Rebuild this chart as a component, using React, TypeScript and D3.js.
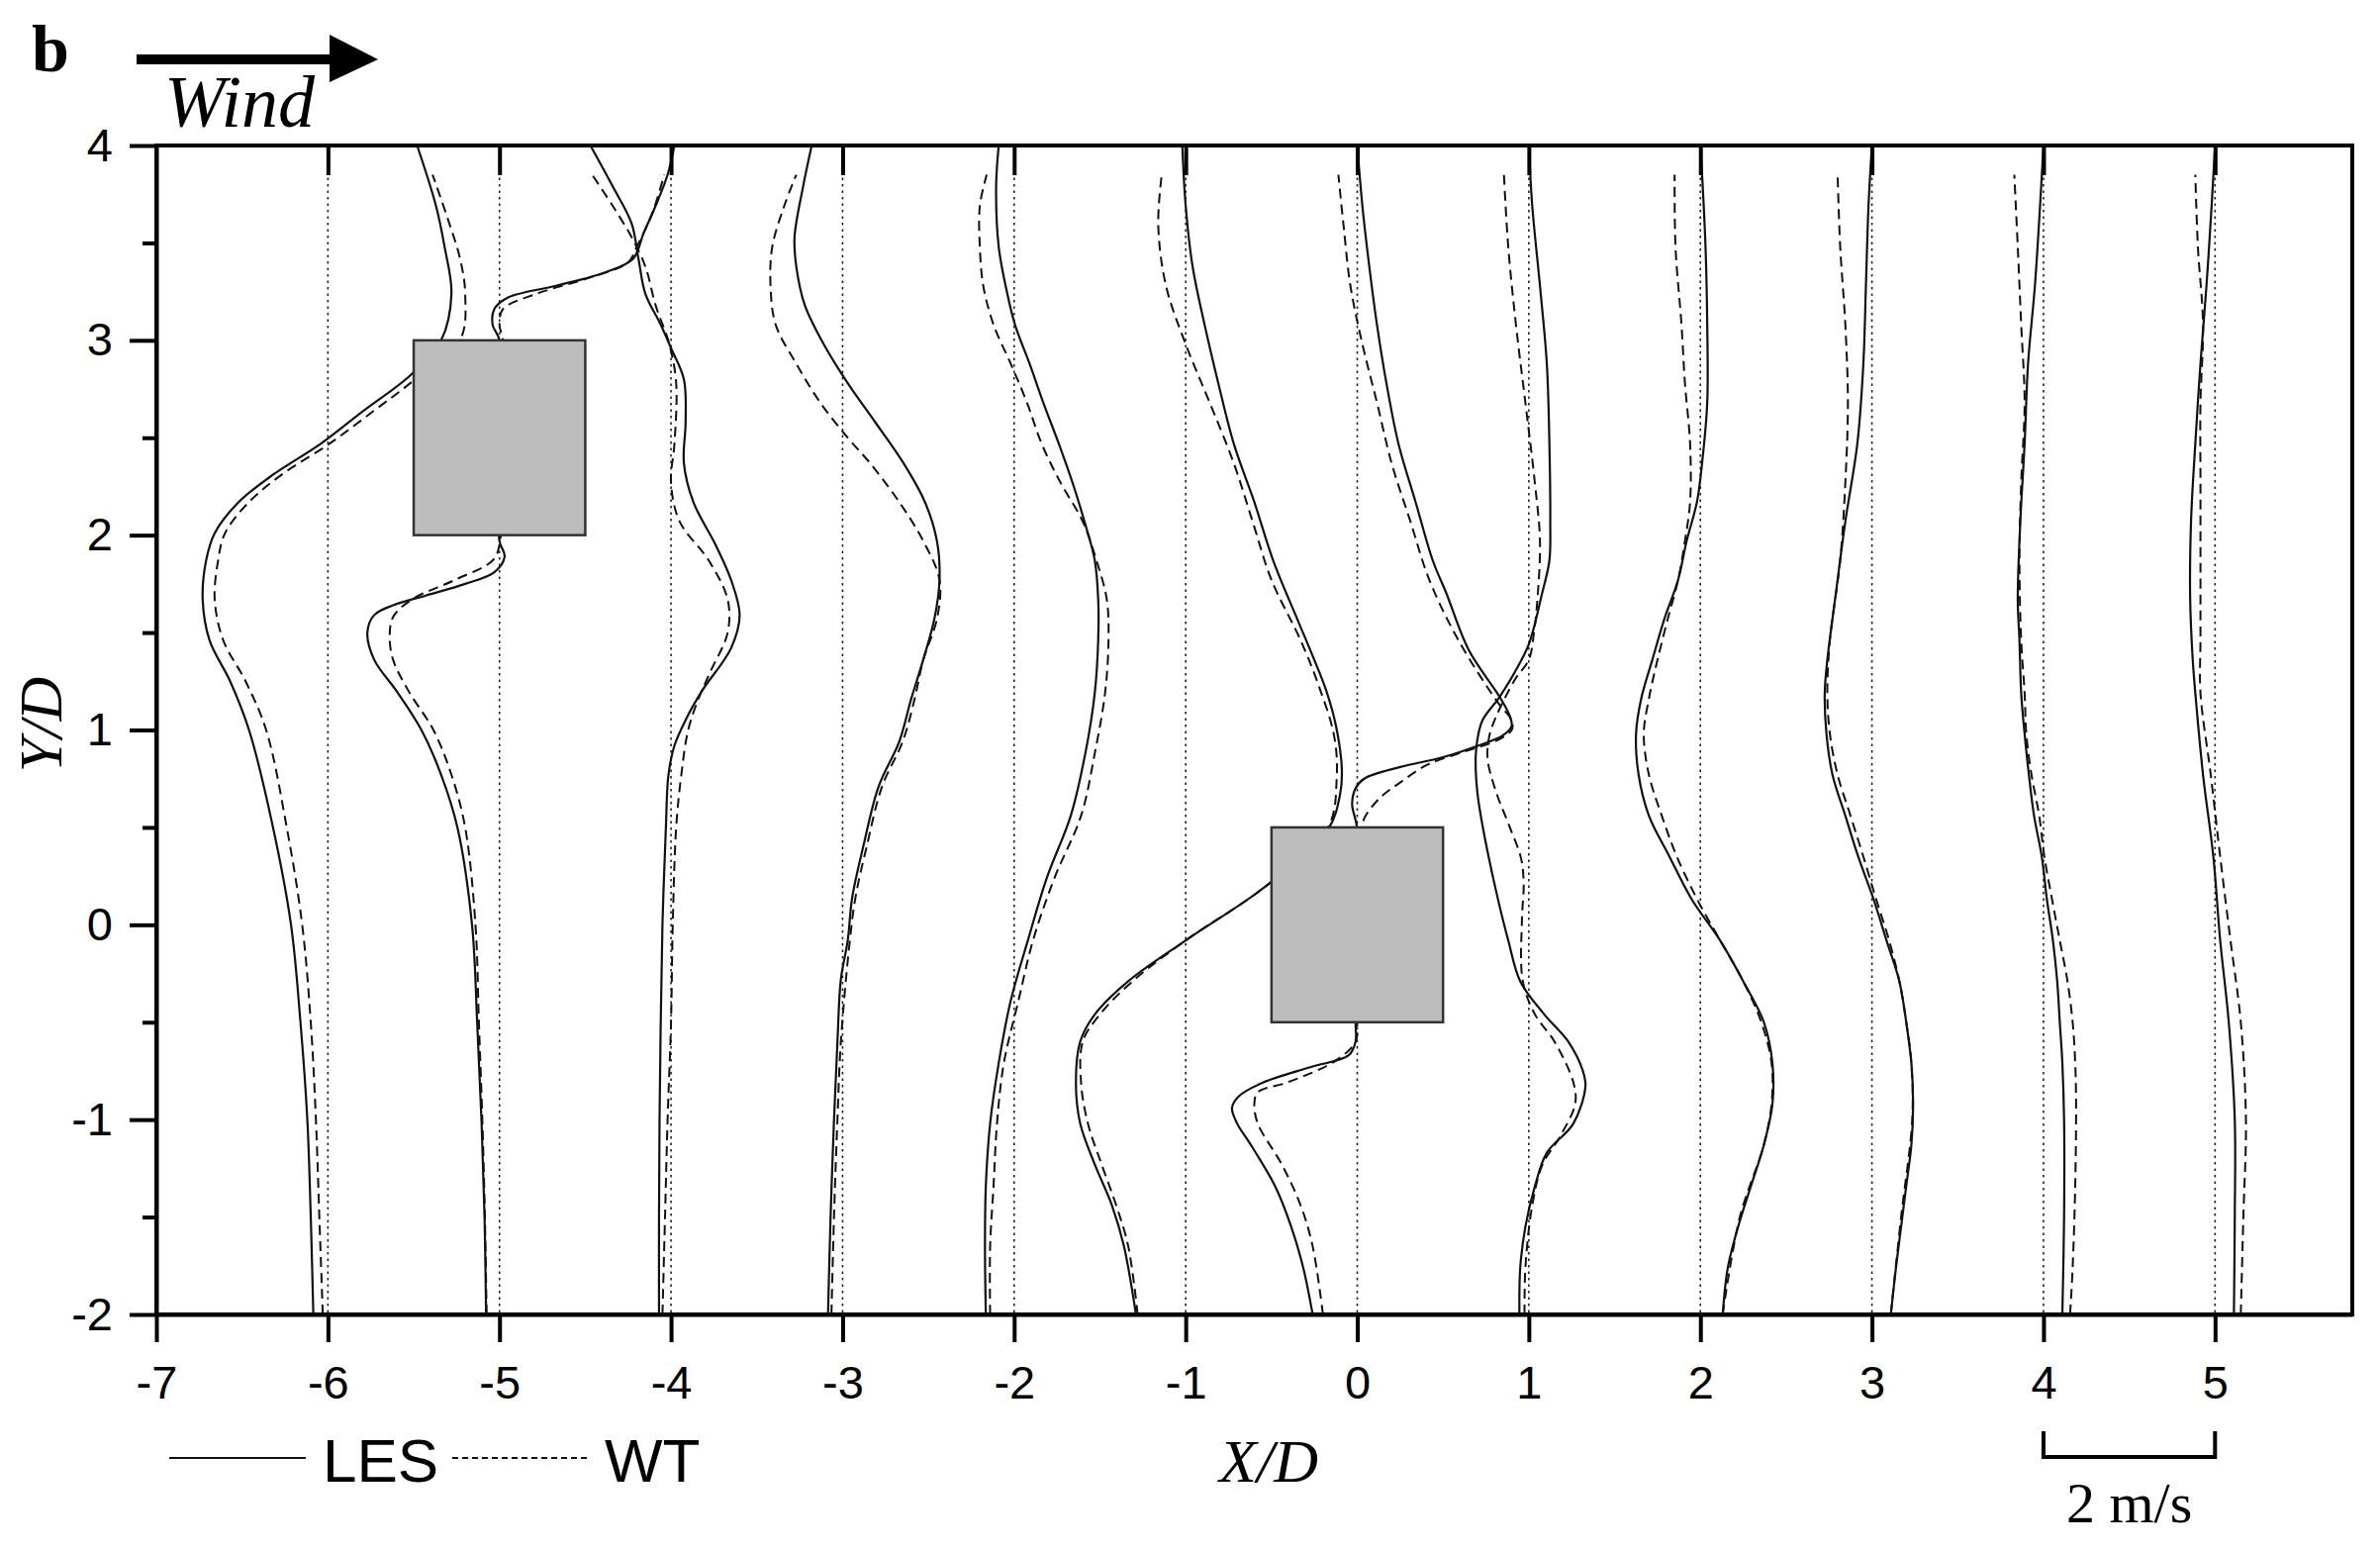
import { useEffect, useRef } from "react";
import * as d3 from "d3";

// measuring stations (X/D) and axis ticks
const stations = [-6, -5, -4, -3, -2, -1, 0, 1, 2, 3, 4, 5];
const xTickValues = [-7, -6, -5, -4, -3, -2, -1, 0, 1, 2, 3, 4, 5];
const yTickValues = [-2, -1, 0, 1, 2, 3, 4];
const yMinorTickValues = [-1.5, -0.5, 0.5, 1.5, 2.5, 3.5];

// profiles: [Y/D, deflection from station in X/D]  (1 X/D = 2 m/s)
const les_m6 = [[-2,-0.085],[-1.5,-0.1],[-1,-0.12],[-0.5,-0.16],[0,-0.215],[0.5,-0.32],[1,-0.46],[1.25,-0.57],[1.46,-0.69],[1.67,-0.73],[1.87,-0.71],[2.01,-0.66],[2.17,-0.52],[2.31,-0.32],[2.47,-0.04],[2.64,0.21],[2.82,0.48],[3,0.66],[3.24,0.72],[3.48,0.68],[3.69,0.63],[4,0.52]];
const wt_m6 = [[-2,-0.03],[-1.5,-0.05],[-1,-0.07],[-0.5,-0.1],[0,-0.15],[0.5,-0.24],[1,-0.36],[1.25,-0.48],[1.46,-0.61],[1.67,-0.66],[1.87,-0.64],[2.01,-0.6],[2.17,-0.46],[2.31,-0.27],[2.47,0.01],[2.64,0.27],[2.78,0.48],[3,0.77],[3.24,0.8],[3.42,0.77],[3.62,0.7],[3.85,0.61]];
const les_m5 = [[-2,-0.078],[-1.5,-0.087],[-1,-0.105],[-0.5,-0.13],[0,-0.16],[0.5,-0.245],[0.77,-0.34],[1,-0.455],[1.2,-0.6],[1.36,-0.73],[1.5,-0.77],[1.59,-0.73],[1.64,-0.62],[1.69,-0.43],[1.75,-0.2],[1.81,-0.03],[1.89,0.03],[1.97,0],[2.5,0],[3,0],[3.08,-0.04],[3.16,-0.03],[3.22,0.05],[3.28,0.33],[3.35,0.62],[3.42,0.78],[3.55,0.84],[3.69,0.91],[3.85,0.98],[4,1.02]];
const wt_m5 = [[-2,-0.075],[-1.5,-0.085],[-1,-0.1],[-0.5,-0.12],[0,-0.14],[0.5,-0.2],[0.77,-0.28],[1,-0.385],[1.2,-0.53],[1.36,-0.62],[1.48,-0.64],[1.58,-0.62],[1.67,-0.51],[1.77,-0.26],[1.87,-0.04],[1.95,0],[2.5,0.01],[3,0.02],[3.08,0],[3.16,0.02],[3.24,0.22],[3.32,0.52],[3.4,0.75],[3.48,0.8],[3.65,0.89],[3.85,0.96]];
const les_m4 = [[-2,-0.07],[-1.5,-0.07],[-1,-0.067],[-0.5,-0.06],[0,-0.05],[0.5,-0.03],[0.77,-0.015],[0.92,0.02],[1.06,0.09],[1.2,0.18],[1.42,0.35],[1.59,0.4],[1.77,0.35],[1.95,0.26],[2.17,0.13],[2.37,0.075],[2.58,0.085],[2.8,0.075],[2.96,0],[3.08,-0.06],[3.24,-0.15],[3.42,-0.19],[3.6,-0.23],[3.79,-0.34],[4,-0.47]];
const wt_m4 = [[-2,-0.05],[-1.5,-0.035],[-1,-0.02],[-0.5,0],[0,0.01],[0.5,0.03],[0.77,0.06],[1,0.1],[1.16,0.16],[1.3,0.23],[1.5,0.33],[1.67,0.33],[1.87,0.22],[2.07,0.05],[2.27,0],[2.47,0.02],[2.78,0.03],[2.98,-0.01],[3.18,-0.09],[3.38,-0.15],[3.53,-0.23],[3.69,-0.34],[3.85,-0.46]];
const les_m3 = [[-2,-0.085],[-1.5,-0.07],[-1,-0.05],[-0.6,-0.03],[-0.28,-0.01],[-0.08,0.03],[0.14,0.056],[0.4,0.12],[0.71,0.21],[0.94,0.33],[1.16,0.4],[1.36,0.47],[1.57,0.535],[1.77,0.565],[1.97,0.55],[2.17,0.48],[2.37,0.355],[2.58,0.19],[2.78,0.03],[2.98,-0.11],[3.18,-0.22],[3.38,-0.27],[3.53,-0.28],[3.79,-0.23],[4,-0.18]];
const wt_m3 = [[-2,-0.065],[-1.5,-0.05],[-1,-0.03],[-0.6,-0.01],[-0.1,0.04],[0.14,0.075],[0.4,0.14],[0.71,0.23],[0.94,0.35],[1.16,0.42],[1.36,0.47],[1.57,0.55],[1.77,0.565],[1.97,0.47],[2.17,0.33],[2.37,0.16],[2.5,0.03],[2.68,-0.13],[2.88,-0.27],[3.08,-0.39],[3.28,-0.42],[3.48,-0.41],[3.69,-0.34],[3.85,-0.27]];
const les_m2 = [[-2,-0.165],[-1.65,-0.17],[-1.34,-0.165],[-1.02,-0.14],[-0.71,-0.09],[-0.39,-0.02],[-0.08,0.08],[0.24,0.19],[0.56,0.33],[0.88,0.415],[1.19,0.47],[1.46,0.49],[1.67,0.49],[1.87,0.47],[2.07,0.41],[2.27,0.34],[2.47,0.26],[2.68,0.17],[2.88,0.09],[3.08,0.005],[3.24,-0.04],[3.48,-0.09],[3.79,-0.105],[4,-0.09]];
const wt_m2 = [[-2,-0.14],[-1.65,-0.14],[-1.34,-0.12],[-1.02,-0.1],[-0.71,-0.06],[-0.39,0.025],[-0.08,0.11],[0.24,0.235],[0.56,0.39],[0.88,0.47],[1.19,0.53],[1.46,0.55],[1.67,0.54],[1.87,0.48],[2.07,0.4],[2.27,0.27],[2.47,0.16],[2.68,0.075],[2.88,-0.02],[3.08,-0.12],[3.28,-0.18],[3.48,-0.2],[3.69,-0.2],[3.85,-0.16]];
const les_m1 = [[-2,-0.29],[-1.65,-0.36],[-1.44,-0.43],[-1.23,-0.53],[-1.02,-0.615],[-0.81,-0.64],[-0.6,-0.615],[-0.46,-0.53],[-0.29,-0.335],[-0.08,0],[0.2,0.47],[0.49,0.83],[0.67,0.9],[0.8,0.91],[1.02,0.876],[1.2,0.82],[1.38,0.74],[1.57,0.65],[1.87,0.51],[2.17,0.4],[2.47,0.28],[2.78,0.19],[3.08,0.11],[3.38,0.04],[3.69,0],[4,-0.02]];
const wt_m1 = [[-2,-0.28],[-1.65,-0.335],[-1.44,-0.405],[-1.23,-0.49],[-1.02,-0.57],[-0.81,-0.61],[-0.6,-0.6],[-0.46,-0.5],[-0.29,-0.31],[-0.08,0],[0.2,0.47],[0.5,0.83],[0.75,0.88],[0.97,0.865],[1.24,0.77],[1.46,0.67],[1.77,0.5],[2.07,0.39],[2.37,0.28],[2.68,0.14],[2.98,0],[3.28,-0.115],[3.59,-0.16],[3.85,-0.14]];
const les_0 = [[-2,-0.26],[-1.76,-0.315],[-1.55,-0.385],[-1.34,-0.48],[-1.13,-0.62],[-1.02,-0.7],[-0.94,-0.73],[-0.88,-0.69],[-0.81,-0.55],[-0.73,-0.27],[-0.67,-0.05],[-0.6,-0.01],[-0.5,-0.01],[0.49,0],[0.62,-0.03],[0.7,-0.01],[0.75,0.04],[0.81,0.25],[0.86,0.5],[0.915,0.69],[0.97,0.845],[1.02,0.9],[1.08,0.885],[1.17,0.83],[1.41,0.65],[1.7,0.52],[1.87,0.44],[2.17,0.34],[2.47,0.24],[2.78,0.17],[3.08,0.115],[3.38,0.07],[3.69,0.03],[4,0]];
const wt_0 = [[-2,-0.2],[-1.65,-0.26],[-1.44,-0.33],[-1.23,-0.44],[-1.02,-0.58],[-0.92,-0.6],[-0.86,-0.58],[-0.81,-0.41],[-0.7,-0.13],[-0.6,-0.01],[-0.5,0],[0.5,0.03],[0.545,0.04],[0.65,0.13],[0.73,0.25],[0.82,0.405],[0.885,0.61],[0.945,0.81],[1,0.9],[1.05,0.9],[1.14,0.82],[1.46,0.59],[1.77,0.42],[2.07,0.31],[2.37,0.2],[2.68,0.115],[2.98,0.03],[3.28,-0.04],[3.59,-0.08],[3.85,-0.11]];
const les_1 = [[-2,-0.055],[-1.76,-0.05],[-1.55,-0.02],[-1.34,0.036],[-1.17,0.105],[-1.02,0.26],[-0.83,0.33],[-0.75,0.315],[-0.6,0.23],[-0.46,0.09],[-0.29,-0.05],[-0.08,-0.12],[0.17,-0.19],[0.51,-0.27],[0.68,-0.3],[0.85,-0.31],[0.95,-0.3],[1.05,-0.27],[1.17,-0.17],[1.3,-0.08],[1.44,0],[1.7,0.077],[1.87,0.12],[2.07,0.125],[2.47,0.12],[2.88,0.105],[3.28,0.065],[3.69,0.02],[4,0]];
const wt_1 = [[-2,-0.025],[-1.76,-0.02],[-1.44,0.02],[-1.23,0.08],[-1.09,0.18],[-0.92,0.27],[-0.81,0.26],[-0.6,0.15],[-0.46,0.036],[-0.29,-0.035],[0.03,-0.04],[0.21,-0.03],[0.34,-0.045],[0.51,-0.115],[0.68,-0.19],[0.85,-0.24],[0.97,-0.23],[1.07,-0.19],[1.26,-0.08],[1.36,0],[1.5,0.03],[1.67,0.05],[1.97,0.065],[2.27,0.035],[2.68,-0.02],[3.08,-0.075],[3.48,-0.12],[3.85,-0.145]];
const les_2 = [[-2,0.13],[-1.76,0.16],[-1.55,0.22],[-1.34,0.295],[-1.13,0.37],[-0.92,0.42],[-0.71,0.42],[-0.5,0.37],[-0.29,0.25],[-0.08,0.115],[0.13,-0.05],[0.35,-0.18],[0.56,-0.3],[0.77,-0.36],[0.98,-0.375],[1.16,-0.345],[1.36,-0.28],[1.57,-0.21],[1.77,-0.13],[1.97,-0.08],[2.17,-0.02],[2.37,0.01],[2.68,0.04],[3.08,0.04],[3.48,0.03],[3.85,0.01],[4,0]];
const wt_2 = [[-2,0.13],[-1.5,0.23],[-1.13,0.37],[-0.92,0.415],[-0.71,0.415],[-0.5,0.355],[-0.29,0.25],[-0.08,0.115],[0.13,-0.018],[0.35,-0.137],[0.56,-0.225],[0.77,-0.3],[0.98,-0.33],[1.16,-0.3],[1.36,-0.25],[1.57,-0.19],[1.77,-0.13],[1.97,-0.09],[2.17,-0.06],[2.47,-0.06],[2.78,-0.09],[3.08,-0.11],[3.48,-0.145],[3.85,-0.15]];
const les_3 = [[-2,0.11],[-1.76,0.14],[-1.55,0.17],[-1.34,0.2],[-1.13,0.23],[-0.92,0.24],[-0.71,0.23],[-0.5,0.2],[-0.29,0.16],[-0.08,0.085],[0.13,0.01],[0.35,-0.08],[0.56,-0.155],[0.77,-0.23],[0.98,-0.265],[1.19,-0.275],[1.36,-0.26],[1.67,-0.215],[2.07,-0.155],[2.47,-0.085],[2.88,-0.05],[3.28,-0.035],[3.69,-0.02],[4,0]];
const wt_3 = [[-2,0.11],[-1.5,0.17],[-1,0.235],[-0.71,0.23],[-0.5,0.2],[-0.29,0.16],[-0.08,0.1],[0.13,0.025],[0.35,-0.05],[0.56,-0.125],[0.77,-0.2],[0.98,-0.245],[1.19,-0.26],[1.46,-0.245],[1.87,-0.185],[2.27,-0.155],[2.68,-0.14],[3.08,-0.155],[3.48,-0.185],[3.85,-0.2]];
const les_4 = [[-2,0.11],[-1.5,0.12],[-1,0.12],[-0.71,0.11],[-0.5,0.095],[-0.29,0.08],[-0.08,0.055],[0.13,0.02],[0.35,-0.01],[0.56,-0.055],[0.77,-0.085],[0.98,-0.11],[1.19,-0.13],[1.46,-0.14],[1.67,-0.15],[2.07,-0.135],[2.47,-0.11],[2.88,-0.09],[3.28,-0.05],[3.69,-0.02],[4,0]];
const wt_4 = [[-2,0.155],[-1.76,0.17],[-1.34,0.185],[-0.92,0.19],[-0.71,0.185],[-0.5,0.17],[-0.29,0.14],[-0.08,0.095],[0.13,0.05],[0.35,0.005],[0.56,-0.025],[0.77,-0.07],[0.98,-0.1],[1.19,-0.11],[1.46,-0.13],[1.87,-0.14],[2.27,-0.13],[2.68,-0.11],[3.08,-0.13],[3.48,-0.15],[3.85,-0.17]];
const les_5 = [[-2,0.11],[-1.5,0.115],[-1,0.115],[-0.5,0.08],[-0.08,0.03],[0.35,-0.01],[0.77,-0.07],[1.19,-0.115],[1.36,-0.13],[1.67,-0.145],[2.07,-0.14],[2.47,-0.115],[2.88,-0.085],[3.28,-0.05],[3.69,-0.02],[4,0]];
const wt_5 = [[-2,0.15],[-1.5,0.165],[-1,0.18],[-0.5,0.15],[-0.08,0.09],[0.35,0.03],[0.77,-0.025],[1.19,-0.085],[1.46,-0.085],[1.87,-0.085],[2.27,-0.085],[2.68,-0.085],[3.08,-0.07],[3.48,-0.1],[3.85,-0.115]];

const lesProfiles = [les_m6, les_m5, les_m4, les_m3, les_m2, les_m1, les_0, les_1, les_2, les_3, les_4, les_5];
const wtProfiles = [wt_m6, wt_m5, wt_m4, wt_m3, wt_m2, wt_m1, wt_0, wt_1, wt_2, wt_3, wt_4, wt_5];

// building footprints [x0, x1, y0, y1] in X/D, Y/D
const buildings = [[-5.5, -4.5, 2, 3], [-0.5, 0.5, -0.5, 0.5]];

const SANS = "'Liberation Sans', Arial, sans-serif";
const SERIF = "'Liberation Serif', 'Times New Roman', serif";

const App = () => {
    const svgRef = useRef(null);

    useEffect(() => {
        const svg = d3.select(svgRef.current);
        svg.selectAll("*").remove();

        const W = 2405, H = 1567;
        const margin = { top: 147, right: 28, bottom: 239, left: 158 };
        const width = W - margin.left - margin.right;
        const height = H - margin.top - margin.bottom;

        const x = d3.scaleLinear().domain([-7, 5.8]).range([0, width]);
        const y = d3.scaleLinear().domain([-2, 4]).range([height, 0]);

        svg.append("rect").attr("width", W).attr("height", H).attr("fill", "#fff");

        const g = svg.append("g").attr("transform", `translate(${margin.left},${margin.top})`);

        // dotted station lines
        g.selectAll(".station")
            .data(stations)
            .enter()
            .append("line")
            .attr("x1", (d) => x(d))
            .attr("x2", (d) => x(d))
            .attr("y1", y(4))
            .attr("y2", y(-2))
            .attr("stroke", "#222")
            .attr("stroke-width", 1.6)
            .attr("stroke-dasharray", "2.5,4");

        const line = (station) =>
            d3
                .line()
                .x((d) => x(station + d[1]))
                .y((d) => y(d[0]))
                .curve(d3.curveCatmullRom.alpha(0.5));

        stations.forEach((s, i) => {
            g.append("path")
                .attr("d", line(s)(wtProfiles[i]))
                .attr("fill", "none")
                .attr("stroke", "#111")
                .attr("stroke-width", 2)
                .attr("stroke-dasharray", "10,6");
            g.append("path")
                .attr("d", line(s)(lesProfiles[i]))
                .attr("fill", "none")
                .attr("stroke", "#111")
                .attr("stroke-width", 2.2);
        });

        // buildings drawn over the profiles
        g.selectAll(".building")
            .data(buildings)
            .enter()
            .append("rect")
            .attr("x", (d) => x(d[0]))
            .attr("y", (d) => y(d[3]))
            .attr("width", (d) => x(d[1]) - x(d[0]))
            .attr("height", (d) => y(d[2]) - y(d[3]))
            .attr("fill", "#bdbdbd")
            .attr("stroke", "#333")
            .attr("stroke-width", 2.5);

        // axes (plain hyphen minus like the original)
        const fmt = (d) => String(d);
        const xAxis = g
            .append("g")
            .attr("transform", `translate(0,${height})`)
            .call(d3.axisBottom(x).tickValues(xTickValues).tickFormat(fmt).tickSize(28).tickSizeOuter(0).tickPadding(24));
        const yAxis = g
            .append("g")
            .call(d3.axisLeft(y).tickValues(yTickValues).tickFormat(fmt).tickSize(27).tickSizeOuter(0).tickPadding(17));
        g.append("g")
            .call(d3.axisLeft(y).tickValues(yMinorTickValues).tickSize(14).tickSizeOuter(0).tickFormat(() => ""))
            .select(".domain")
            .remove();
        g.append("g")
            .call(d3.axisTop(x).tickValues(stations).tickSize(-30).tickSizeOuter(0).tickFormat(() => ""))
            .select(".domain")
            .remove();

        [xAxis, yAxis].forEach((a) => {
            a.selectAll("text").style("font-family", SANS).style("font-size", "47px").attr("fill", "#000");
        });
        g.selectAll(".tick line").attr("stroke", "#000").attr("stroke-width", 4);
        g.selectAll(".domain").attr("stroke", "#000").attr("stroke-width", 4);

        g.append("rect")
            .attr("width", width)
            .attr("height", height)
            .attr("fill", "none")
            .attr("stroke", "#000")
            .attr("stroke-width", 4);

        // axis titles
        svg.append("text")
            .attr("x", 1282)
            .attr("y", 1497)
            .attr("text-anchor", "middle")
            .style("font-family", SERIF)
            .style("font-style", "italic")
            .style("font-size", "62px")
            .text("X/D");
        svg.append("text")
            .attr("transform", "translate(62,732) rotate(-90)")
            .attr("text-anchor", "middle")
            .style("font-family", SERIF)
            .style("font-style", "italic")
            .style("font-size", "62px")
            .text("Y/D");

        // panel label and wind arrow
        svg.append("text")
            .attr("x", 32)
            .attr("y", 72)
            .style("font-family", SERIF)
            .style("font-weight", "bold")
            .style("font-size", "68px")
            .text("b");
        svg.append("line")
            .attr("x1", 138)
            .attr("x2", 340)
            .attr("y1", 60)
            .attr("y2", 60)
            .attr("stroke", "#000")
            .attr("stroke-width", 10);
        svg.append("path").attr("d", "M333,35 L382,60 L333,83 Z").attr("fill", "#000");
        svg.append("text")
            .attr("x", 166)
            .attr("y", 128)
            .style("font-family", SERIF)
            .style("font-style", "italic")
            .style("font-size", "74px")
            .text("Wind");

        // legend
        const legend = svg.append("g").style("font-family", SANS).style("font-size", "62px");
        legend.append("line").attr("x1", 171).attr("x2", 309).attr("y1", 1473).attr("y2", 1473)
            .attr("stroke", "#111").attr("stroke-width", 2.2);
        legend.append("text").attr("x", 326).attr("y", 1497).text("LES");
        legend.append("line").attr("x1", 457).attr("x2", 594).attr("y1", 1473).attr("y2", 1473)
            .attr("stroke", "#111").attr("stroke-width", 2).attr("stroke-dasharray", "6,4");
        legend.append("text").attr("x", 611).attr("y", 1497).text("WT");

        // velocity scale bar: 1 X/D = 2 m/s
        const sx0 = margin.left + x(4);
        const sx1 = margin.left + x(5);
        svg.append("path")
            .attr("d", `M${sx0},1446 V1472 H${sx1} V1446`)
            .attr("fill", "none")
            .attr("stroke", "#000")
            .attr("stroke-width", 4);
        svg.append("text")
            .attr("x", (sx0 + sx1) / 2)
            .attr("y", 1538)
            .attr("text-anchor", "middle")
            .style("font-family", SERIF)
            .style("font-size", "58px")
            .text("2 m/s");
    }, []);

    return (
        <svg
            ref={svgRef}
            width={2405}
            height={1567}
            style={{ position: "absolute", left: 0, top: 0, display: "block" }}
        ></svg>
    );
};

export default App;
